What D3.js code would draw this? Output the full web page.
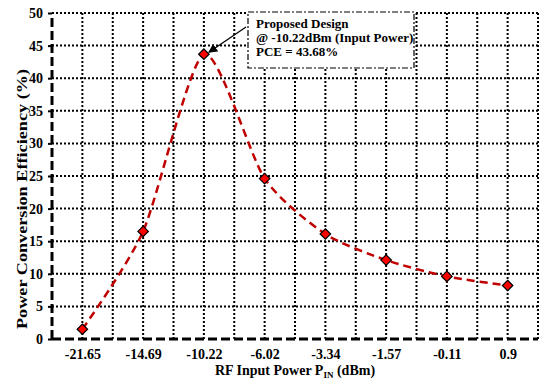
<!DOCTYPE html>
<html>
<head>
<meta charset="utf-8">
<style>
    body { margin: 0; background: #fff; }
    .grid line { stroke: #000; stroke-width: 2; stroke-dasharray: 2 2; }
</style>
</head>
<body>
<svg width="542" height="382"></svg>
<script src="https://d3js.org/d3.v7.min.js"></script>
<script>
    // data
    let inputPower = ["-21.65", "-14.69", "-10.22", "-6.02", "-3.34", "-1.57", "-0.11", "0.9"];
    let pce = [1.5, 16.5, 43.68, 24.6, 16.1, 12.1, 9.6, 8.2];
    let yTicks = [0, 5, 10, 15, 20, 25, 30, 35, 40, 45, 50];
    let noteLines = ["Proposed Design", "@ -10.22dBm (Input Power)", "PCE = 43.68%"];

    let serif = "'Liberation Serif', 'Times New Roman', 'DejaVu Serif', serif";
    let margin = { top: 13, right: 4, bottom: 43, left: 52 };
    let width = 542, height = 382;
    let svg = d3.select("svg");

    let x = d3.scalePoint()
        .domain(inputPower)
        .range([margin.left, width - margin.right])
        .padding(0.5);

    let y = d3.scaleLinear()
        .domain([0, 50])
        .range([height - margin.bottom, margin.top]);

    let step = x.step();
    let gridX = [];
    inputPower.forEach(d => { gridX.push(x(d)); gridX.push(x(d) + step / 2); });

    // grid
    let grid = svg.append("g").attr("class", "grid");
    grid.selectAll(".gx")
        .data(gridX)
        .join("line")
        .attr("x1", d => d).attr("x2", d => d)
        .attr("y1", y(0)).attr("y2", y(50));
    grid.selectAll(".gy")
        .data(yTicks.slice(1))
        .join("line")
        .attr("x1", margin.left).attr("x2", width - margin.right)
        .attr("y1", d => y(d)).attr("y2", d => y(d));

    // axes
    let yAxis = svg.append("g")
        .attr("transform", `translate(${margin.left},0)`)
        .call(d3.axisLeft(y).tickValues(yTicks).tickSize(4).tickPadding(5));
    yAxis.select(".domain").remove();
    yAxis.selectAll(".tick line").attr("stroke-width", 2);

    let xAxis = svg.append("g")
        .attr("transform", `translate(0,${y(0)})`)
        .call(d3.axisBottom(x).tickSize(0).tickPadding(10));
    xAxis.select(".domain").remove();

    svg.selectAll(".tick text").attr("font-size", 14).attr("fill", "#000");

    svg.append("line")
        .attr("x1", margin.left).attr("x2", margin.left)
        .attr("y1", y(0)).attr("y2", y(50))
        .attr("stroke", "#000").attr("stroke-width", 3)
        .attr("stroke-dasharray", "9 4");
    svg.append("line")
        .attr("x1", margin.left).attr("x2", width - margin.right)
        .attr("y1", y(0)).attr("y2", y(0))
        .attr("stroke", "#000").attr("stroke-width", 3)
        .attr("stroke-dasharray", "9 4");

    // curve
    let pts = inputPower.map((d, i) => [x(d), y(pce[i])]);
    svg.append("path")
        .attr("d", d3.line().curve(d3.curveCardinal.tension(0.3))(pts))
        .attr("fill", "none")
        .attr("stroke", "#c00000")
        .attr("stroke-width", 2.5)
        .attr("stroke-dasharray", "8 5");

    svg.selectAll(".marker")
        .data(pts)
        .join("path")
        .attr("transform", d => `translate(${d[0]},${d[1]})`)
        .attr("d", d3.symbol().type(d3.symbolDiamond2).size(70))
        .attr("fill", "#ff0000")
        .attr("stroke", "#000")
        .attr("stroke-width", 1.2);

    // annotation
    let bx = 248, by = 12, bw = 166, bh = 56;
    svg.append("rect")
        .attr("x", bx).attr("y", by).attr("width", bw).attr("height", bh)
        .attr("fill", "#fff")
        .attr("stroke", "#000").attr("stroke-width", 1.2)
        .attr("stroke-dasharray", "6 2 2 2");
    svg.append("text")
        .attr("font-size", 13)
        .selectAll("tspan")
        .data(noteLines)
        .join("tspan")
        .attr("x", bx + 8)
        .attr("y", (d, i) => by + 16 + i * 14)
        .text(d => d);

    svg.append("defs").append("marker")
        .attr("id", "arrow")
        .attr("viewBox", "0 0 10 10")
        .attr("refX", 9).attr("refY", 5)
        .attr("markerWidth", 7).attr("markerHeight", 7)
        .attr("orient", "auto")
        .append("path").attr("d", "M0,0L10,5L0,10z").attr("fill", "#000");
    svg.append("line")
        .attr("x1", 246).attr("y1", 27)
        .attr("x2", x("-10.22") + 5).attr("y2", y(43.68) - 2)
        .attr("stroke", "#000").attr("stroke-width", 1.3)
        .attr("marker-end", "url(#arrow)");

    // titles
    let xt = svg.append("text")
        .attr("font-size", 14)
        .attr("x", 295)
        .attr("y", 375)
        .attr("text-anchor", "middle");
    xt.append("tspan").text("RF Input Power P");
    xt.append("tspan").attr("font-size", "9px").attr("dy", 3).text("IN");
    xt.append("tspan").attr("dy", -3).text(" (dBm)");

    svg.append("text")
        .attr("font-size", 14)
        .attr("transform", "translate(27,199) rotate(-90)")
        .attr("text-anchor", "middle")
        .attr("textLength", 260)
        .attr("lengthAdjust", "spacingAndGlyphs")
        .text("Power Conversion Efficiency (%)");

    svg.selectAll("g").attr("font-family", serif);
    svg.selectAll("text")
        .attr("font-family", serif)
        .attr("font-weight", "bold");
</script>
</body>
</html>
